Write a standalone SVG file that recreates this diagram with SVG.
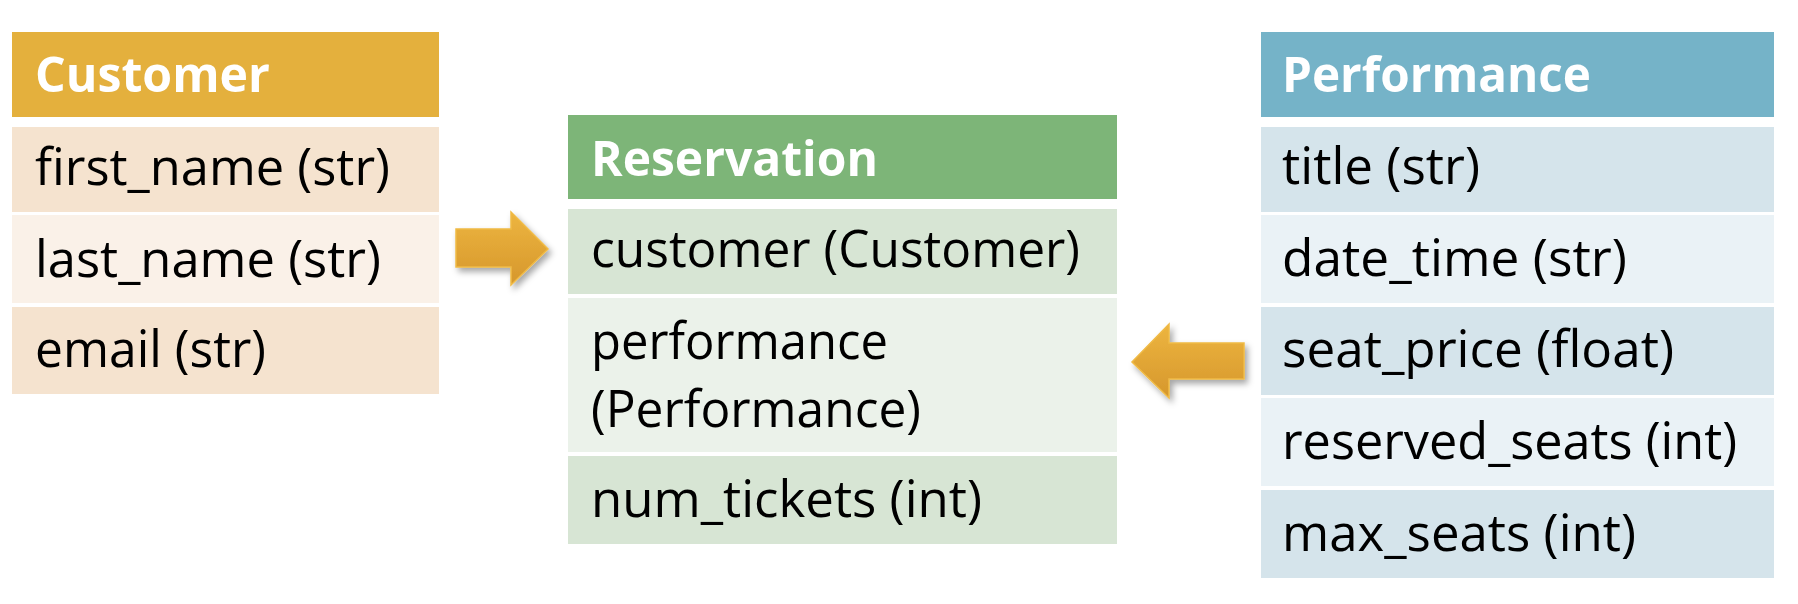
<svg xmlns="http://www.w3.org/2000/svg" width="1798" height="604" viewBox="0 0 1798 604">
<defs>
<style>
.hd{font-family:"Open Sans","Liberation Sans",sans-serif;font-weight:bold;font-size:49px;fill:#ffffff}
.tx{font-family:"Open Sans","Liberation Sans",sans-serif;font-size:52px;fill:#000000}
</style>
<linearGradient id="ag" x1="0" y1="0" x2="0" y2="1">
<stop offset="0" stop-color="#EDB540"/>
<stop offset="1" stop-color="#D6972C"/>
</linearGradient>
<filter id="sh" x="-30%" y="-30%" width="160%" height="160%">
<feDropShadow dx="3" dy="4" stdDeviation="3" flood-color="#000" flood-opacity="0.35"/>
</filter>
</defs>
<rect width="1798" height="604" fill="#ffffff"/>
<g id="customer">
<rect x="12" y="32" width="427" height="85" fill="#E4B03D"/>
<rect x="12" y="127" width="427" height="85" fill="#F5E3CF"/>
<rect x="12" y="215" width="427" height="88" fill="#FAF1E8"/>
<rect x="12" y="307" width="427" height="87" fill="#F5E3CF"/>
<text class="hd" x="35" y="92" textLength="235" lengthAdjust="spacingAndGlyphs">Customer</text>
<text class="tx" x="35" y="185" textLength="355" lengthAdjust="spacingAndGlyphs">first_name (str)</text>
<text class="tx" x="35" y="277" textLength="346" lengthAdjust="spacingAndGlyphs">last_name (str)</text>
<text class="tx" x="35" y="367" textLength="231" lengthAdjust="spacingAndGlyphs">email (str)</text>
</g>
<g id="reservation">
<rect x="568" y="115" width="549" height="84" fill="#7DB578"/>
<rect x="568" y="209" width="549" height="85" fill="#D7E5D4"/>
<rect x="568" y="298" width="549" height="154" fill="#EBF2EA"/>
<rect x="568" y="456" width="549" height="88" fill="#D7E5D4"/>
<text class="hd" x="591" y="176" textLength="287" lengthAdjust="spacingAndGlyphs">Reservation</text>
<text class="tx" x="591" y="267" textLength="489" lengthAdjust="spacingAndGlyphs">customer (Customer)</text>
<text class="tx" x="591" y="359" textLength="297" lengthAdjust="spacingAndGlyphs">performance</text>
<text class="tx" x="591" y="427" textLength="330" lengthAdjust="spacingAndGlyphs">(Performance)</text>
<text class="tx" x="591" y="517" textLength="391" lengthAdjust="spacingAndGlyphs">num_tickets (int)</text>
</g>
<g id="performance">
<rect x="1261" y="32" width="513" height="85" fill="#75B3C8"/>
<rect x="1261" y="127" width="513" height="85" fill="#D5E4EB"/>
<rect x="1261" y="215" width="513" height="88" fill="#EAF2F6"/>
<rect x="1261" y="307" width="513" height="88" fill="#D5E4EB"/>
<rect x="1261" y="398" width="513" height="88" fill="#EAF2F6"/>
<rect x="1261" y="490" width="513" height="88" fill="#D5E4EB"/>
<text class="hd" x="1282" y="92" textLength="309" lengthAdjust="spacingAndGlyphs">Performance</text>
<text class="tx" x="1282" y="184" textLength="198" lengthAdjust="spacingAndGlyphs">title (str)</text>
<text class="tx" x="1282" y="276" textLength="345" lengthAdjust="spacingAndGlyphs">date_time (str)</text>
<text class="tx" x="1282" y="367" textLength="392" lengthAdjust="spacingAndGlyphs">seat_price (float)</text>
<text class="tx" x="1282" y="459" textLength="455" lengthAdjust="spacingAndGlyphs">reserved_seats (int)</text>
<text class="tx" x="1282" y="551" textLength="354" lengthAdjust="spacingAndGlyphs">max_seats (int)</text>
</g>
<g id="connectors">
<path d="M456,229 L511,229 L511,212 L548,249 L511,285 L511,267 L456,267 Z" fill="url(#ag)" stroke="#F0BA45" stroke-width="1.5" filter="url(#sh)"/>
<path d="M1244,343 L1169,343 L1169,324 L1132,362 L1169,398 L1169,379 L1244,379 Z" fill="url(#ag)" stroke="#F0BA45" stroke-width="1.5" filter="url(#sh)"/>
</g>
</svg>
